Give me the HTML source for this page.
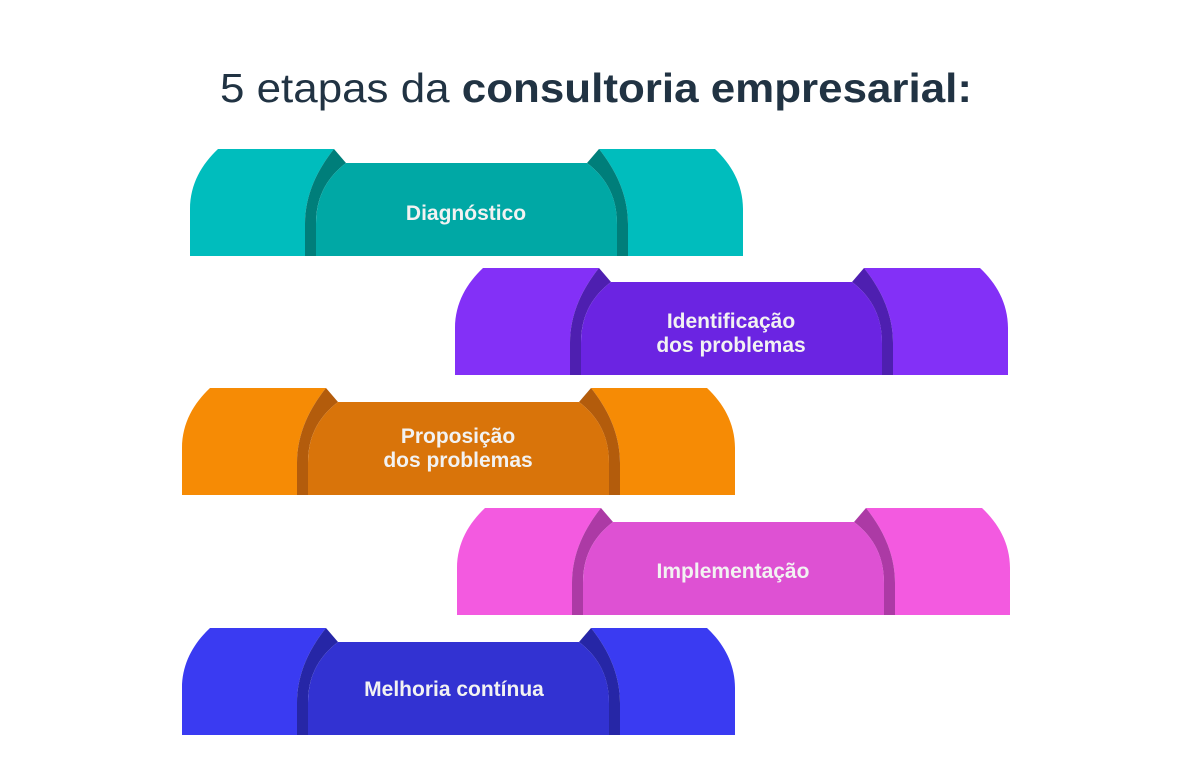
<!DOCTYPE html>
<html><head><meta charset="utf-8"><style>
html,body{margin:0;padding:0;background:#fff;}
svg{display:block}
</style></head><body>
<svg width="1192" height="780" viewBox="0 0 1192 780" xmlns="http://www.w3.org/2000/svg">
<defs>
<g id="L">
<path d="M0,107 V60 C0,35 12,15 28,0 H144 C128,20 115,45 115,75 V107 Z"/>
</g>
</defs>
<text x="220" y="102" textLength="752" lengthAdjust="spacingAndGlyphs" font-family="Liberation Sans, sans-serif" font-size="41" fill="#213343">5 etapas da <tspan font-weight="bold">consultoria empresarial:</tspan></text>

<!-- shape template via function-like repetition -->
<g transform="translate(190,149)">
<path fill="#00bdbd" d="M0,107 V60 C0,35 12,15 28,0 H144 C128,20 115,45 115,75 V107 Z"/>
<path fill="#00bdbd" d="M553,107 V60 C553,35 541,15 525,0 H409 C425,20 438,45 438,75 V107 Z"/>
<path fill="#007e7a" d="M144,0 C128,20 115,45 115,75 V107 H126 V75 C126,50 135,30 156,14 Z"/>
<path fill="#007e7a" d="M409,0 C425,20 438,45 438,75 V107 H427 V75 C427,50 418,30 397,14 Z"/>
<path fill="#00a8a5" d="M156,14 H397 C418,30 427,50 427,75 V107 H126 V75 C126,50 135,30 156,14 Z"/>
<text x="276" y="71" text-anchor="middle" font-family="Liberation Sans, sans-serif" font-size="21" font-weight="bold" fill="#f2f2f2">Diagnóstico</text>
</g>

<g transform="translate(455,268)">
<path fill="#8330f7" d="M0,107 V60 C0,35 12,15 28,0 H144 C128,20 115,45 115,75 V107 Z"/>
<path fill="#8330f7" d="M553,107 V60 C553,35 541,15 525,0 H409 C425,20 438,45 438,75 V107 Z"/>
<path fill="#4e1fb0" d="M144,0 C128,20 115,45 115,75 V107 H126 V75 C126,50 135,30 156,14 Z"/>
<path fill="#4e1fb0" d="M409,0 C425,20 438,45 438,75 V107 H427 V75 C427,50 418,30 397,14 Z"/>
<path fill="#6b24e2" d="M156,14 H397 C418,30 427,50 427,75 V107 H126 V75 C126,50 135,30 156,14 Z"/>
<text x="276" y="60" text-anchor="middle" font-family="Liberation Sans, sans-serif" font-size="21" font-weight="bold" fill="#f2f2f2">Identificação</text>
<text x="276" y="84" text-anchor="middle" font-family="Liberation Sans, sans-serif" font-size="21" font-weight="bold" fill="#f2f2f2">dos problemas</text>
</g>

<g transform="translate(182,388)">
<path fill="#f68b05" d="M0,107 V60 C0,35 12,15 28,0 H144 C128,20 115,45 115,75 V107 Z"/>
<path fill="#f68b05" d="M553,107 V60 C553,35 541,15 525,0 H409 C425,20 438,45 438,75 V107 Z"/>
<path fill="#b35c0c" d="M144,0 C128,20 115,45 115,75 V107 H126 V75 C126,50 135,30 156,14 Z"/>
<path fill="#b35c0c" d="M409,0 C425,20 438,45 438,75 V107 H427 V75 C427,50 418,30 397,14 Z"/>
<path fill="#d9740a" d="M156,14 H397 C418,30 427,50 427,75 V107 H126 V75 C126,50 135,30 156,14 Z"/>
<text x="276" y="55" text-anchor="middle" font-family="Liberation Sans, sans-serif" font-size="21" font-weight="bold" fill="#f2f2f2">Proposição</text>
<text x="276" y="79" text-anchor="middle" font-family="Liberation Sans, sans-serif" font-size="21" font-weight="bold" fill="#f2f2f2">dos problemas</text>
</g>

<g transform="translate(457,508)">
<path fill="#f35ae0" d="M0,107 V60 C0,35 12,15 28,0 H144 C128,20 115,45 115,75 V107 Z"/>
<path fill="#f35ae0" d="M553,107 V60 C553,35 541,15 525,0 H409 C425,20 438,45 438,75 V107 Z"/>
<path fill="#ac3aa5" d="M144,0 C128,20 115,45 115,75 V107 H126 V75 C126,50 135,30 156,14 Z"/>
<path fill="#ac3aa5" d="M409,0 C425,20 438,45 438,75 V107 H427 V75 C427,50 418,30 397,14 Z"/>
<path fill="#de51d3" d="M156,14 H397 C418,30 427,50 427,75 V107 H126 V75 C126,50 135,30 156,14 Z"/>
<text x="276" y="70" text-anchor="middle" font-family="Liberation Sans, sans-serif" font-size="21" font-weight="bold" fill="#f2f2f2">Implementação</text>
</g>

<g transform="translate(182,628)">
<path fill="#3a3bf2" d="M0,107 V60 C0,35 12,15 28,0 H144 C128,20 115,45 115,75 V107 Z"/>
<path fill="#3a3bf2" d="M553,107 V60 C553,35 541,15 525,0 H409 C425,20 438,45 438,75 V107 Z"/>
<path fill="#2626a6" d="M144,0 C128,20 115,45 115,75 V107 H126 V75 C126,50 135,30 156,14 Z"/>
<path fill="#2626a6" d="M409,0 C425,20 438,45 438,75 V107 H427 V75 C427,50 418,30 397,14 Z"/>
<path fill="#3232d2" d="M156,14 H397 C418,30 427,50 427,75 V107 H126 V75 C126,50 135,30 156,14 Z"/>
<text x="272" y="68" text-anchor="middle" font-family="Liberation Sans, sans-serif" font-size="21" font-weight="bold" fill="#f2f2f2">Melhoria contínua</text>
</g>
</svg>
</body></html>
